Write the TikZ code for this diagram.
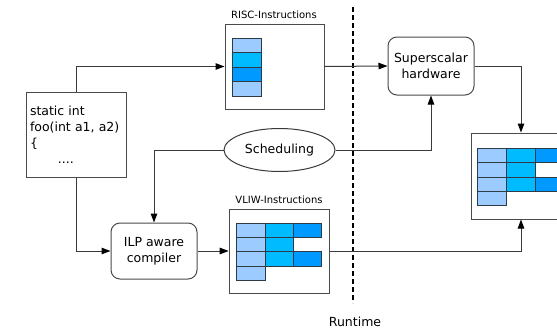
\documentclass[tikz,border=0pt]{standalone}
\usepackage{fontspec}
\setmainfont{DejaVu Sans}
\usetikzlibrary{arrows.meta,shapes.geometric}
\definecolor{lineg}{HTML}{3A3A3A}
\definecolor{boxg}{HTML}{4A4A4A}
\definecolor{cellb}{HTML}{2E3A46}
\definecolor{lightc}{HTML}{9CCCFF}
\definecolor{cyanc}{HTML}{00BBFF}
\definecolor{bluec}{HTML}{0099FF}
\tikzset{
  x=1pt, y=-1pt,
  every node/.style={font=\fontsize{12.5}{16}\selectfont},
  plainbox/.style={draw=boxg, line width=1pt, fill=white, inner sep=0pt},
  roundbox/.style={plainbox, rounded corners=9pt, align=center},
  lbl/.style={font=\fontsize{10}{12}\selectfont},
  conn/.style={draw=lineg, line width=1pt},
  arr/.style={conn, -{Triangle[length=9pt,width=6.5pt,color=black]}},
  cellstyle/.style={draw=cellb, line width=0.8pt},
}
\begin{document}
\begin{tikzpicture}
\useasboundingbox (0,0) rectangle (557,332);

% nodes
\node[plainbox, minimum width=100pt, minimum height=85pt, text width=92pt, align=left, inner xsep=4pt] (code) at (76,134.5)
  {static int\\foo(int a1, a2)\\\{\\\hspace*{28pt}....};
\node[plainbox, minimum width=99pt, minimum height=85pt] (risc) at (274.5,66.5) {};
\node[lbl] (risclbl) at (274,15) {RISC-Instructions};
\node[roundbox, minimum width=86pt, minimum height=58pt] (sup) at (431,66) {Superscalar\\hardware};
\node[draw=lineg, line width=1pt, ellipse, minimum width=111pt, minimum height=43pt, inner sep=0pt] (sched) at (279.5,150) {Scheduling};
\node[roundbox, minimum width=86pt, minimum height=56pt] (ilp) at (154,251) {ILP aware\\compiler};
\node[plainbox, minimum width=100pt, minimum height=84pt] (vliw) at (279.2,251) {};
\node[lbl] (vliwlbl) at (279,200) {VLIW-Instructions};
\node[plainbox, minimum width=100pt, minimum height=86pt] (result) at (521,176) {};
\node (rt) at (355,322) {Runtime};

% dashed runtime boundary
\coordinate (dtop) at (352.7,7);
\coordinate (dbot) at (352.7,303);
\draw[black, line width=2pt, dash pattern=on 5pt off 3pt] (dtop) -- (dbot);

% RISC stack
\begin{scope}[shift={(232,38)}]
  \filldraw[cellstyle, fill=lightc] (0,0) rectangle (29,14.5);
  \filldraw[cellstyle, fill=cyanc] (0,14.5) rectangle (29,29);
  \filldraw[cellstyle, fill=bluec] (0,29) rectangle (29,43.5);
  \filldraw[cellstyle, fill=lightc] (0,43.5) rectangle (29,58);
\end{scope}

% VLIW grid
\begin{scope}[shift={(236.7,223.3)}]
  \filldraw[cellstyle, fill=lightc] (0,0) rectangle (28.3,14.2);
  \filldraw[cellstyle, fill=lightc] (0,14.2) rectangle (28.3,28.4);
  \filldraw[cellstyle, fill=lightc] (0,28.4) rectangle (28.3,42.6);
  \filldraw[cellstyle, fill=lightc] (0,42.6) rectangle (28.3,56.8);
  \filldraw[cellstyle, fill=cyanc] (28.3,0) rectangle (56.6,14.2);
  \filldraw[cellstyle, fill=cyanc] (28.3,14.2) rectangle (56.6,28.4);
  \filldraw[cellstyle, fill=cyanc] (28.3,28.4) rectangle (56.6,42.6);
  \filldraw[cellstyle, fill=bluec] (56.6,0) rectangle (85,14.2);
  \filldraw[cellstyle, fill=bluec] (56.6,28.4) rectangle (85,42.6);
\end{scope}

% Result grid
\begin{scope}[shift={(477.7,148.3)}]
  \filldraw[cellstyle, fill=lightc] (0,0) rectangle (28.6,14.3);
  \filldraw[cellstyle, fill=lightc] (0,14.3) rectangle (28.6,28.6);
  \filldraw[cellstyle, fill=lightc] (0,28.6) rectangle (28.6,42.9);
  \filldraw[cellstyle, fill=lightc] (0,42.9) rectangle (28.6,57.2);
  \filldraw[cellstyle, fill=cyanc] (28.6,0) rectangle (57.2,14.3);
  \filldraw[cellstyle, fill=cyanc] (28.6,14.3) rectangle (57.2,28.6);
  \filldraw[cellstyle, fill=cyanc] (28.6,28.6) rectangle (57.2,42.9);
  \filldraw[cellstyle, fill=bluec] (57.2,0) rectangle (86,14.3);
  \filldraw[cellstyle, fill=bluec] (57.2,28.6) rectangle (86,42.9);
\end{scope}

% connectors
\draw[arr] (code.north) |- (risc.west);
\draw[arr] (risc.east) -- (sup.west);
\draw[arr] (sup.east) -| (result.north);
\draw[arr] (sched.west) -| (ilp.north);
\draw[arr] (sched.east) -| (sup.south);
\draw[arr] (code.south) |- (ilp.west);
\draw[arr] (ilp.east) -- (vliw.west);
\draw[arr] (vliw.east) -| (result.south);
\end{tikzpicture}
\end{document}
